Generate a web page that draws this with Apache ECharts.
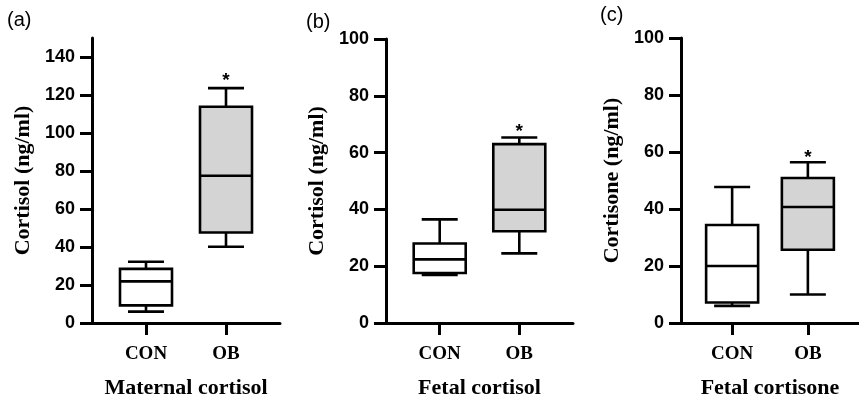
<!DOCTYPE html>
<html>
<head>
<meta charset="utf-8">
<script src="https://cdn.jsdelivr.net/npm/echarts@6/dist/echarts.min.js"></script>
<style>
  html, body { margin: 0; padding: 0; background: #fff; }
  #main { width: 859px; height: 404px; }
</style>
</head>
<body>
<div id="main"></div>
<script>
// groups on the x axis
const categories = ['CON', 'OB'];

// box values: [min, Q1, median, Q3, max]
const maternalCon = [6.0, 9.3, 21.9, 28.5, 32.2];
const maternalOb = [40.1, 47.6, 77.5, 113.8, 123.6];
const fetalCortisolCon = [16.9, 17.6, 22.4, 28.0, 36.5];
const fetalCortisolOb = [24.5, 32.3, 39.9, 63.0, 65.3];
const fetalCortisoneCon = [6.0, 7.2, 20.0, 34.4, 47.7];
const fetalCortisoneOb = [10.0, 25.7, 40.7, 50.9, 56.4];

// where the "*" sits above OB, per panel
const starY = [127.5, 67.5, 58];

// y ticks
const yTicksA = [0, 20, 40, 60, 80, 100, 120, 140];
const yTicksB = [0, 20, 40, 60, 80, 100];

const panelLabels = ['(a)', '(b)', '(c)'];
const yNames = ['Cortisol (ng/ml)', 'Cortisol (ng/ml)', 'Cortisone (ng/ml)'];
const xNames = ['Maternal cortisol', 'Fetal cortisol', 'Fetal cortisone'];

const BOX_W = 52;
const CAP_W = 36;
const LW = 2.6;
const fills = ['#ffffff', '#d4d4d4'];

function boxItem(params, api) {
    const x = api.value(0);
    const pMin = api.coord([x, api.value(1)]);
    const pQ1 = api.coord([x, api.value(2)]);
    const pMed = api.coord([x, api.value(3)]);
    const pQ3 = api.coord([x, api.value(4)]);
    const pMax = api.coord([x, api.value(5)]);
    const cx = pMed[0];
    const hb = BOX_W / 2, hc = CAP_W / 2;
    const ls = { stroke: '#000', lineWidth: LW };
    return {
        type: 'group',
        children: [
            { type: 'line', shape: { x1: cx, y1: pMax[1], x2: cx, y2: pQ3[1] }, style: ls },
            { type: 'line', shape: { x1: cx, y1: pQ1[1], x2: cx, y2: pMin[1] }, style: ls },
            { type: 'line', shape: { x1: cx - hc, y1: pMax[1], x2: cx + hc, y2: pMax[1] }, style: ls },
            { type: 'line', shape: { x1: cx - hc, y1: pMin[1], x2: cx + hc, y2: pMin[1] }, style: ls },
            {
                type: 'rect',
                shape: { x: cx - hb, y: pQ3[1], width: BOX_W, height: pQ1[1] - pQ3[1] },
                style: { fill: fills[params.dataIndex], stroke: '#000', lineWidth: LW }
            },
            { type: 'line', shape: { x1: cx - hb, y1: pMed[1], x2: cx + hb, y2: pMed[1] }, style: ls }
        ]
    };
}

function starItem(params, api) {
    const p = api.coord([api.value(0), api.value(1)]);
    return {
        type: 'text',
        x: p[0], y: p[1],
        style: {
            text: '*', fill: '#000', align: 'center', verticalAlign: 'middle',
            font: 'bold 19px "Liberation Sans", Arial, sans-serif'
        }
    };
}

// grid positions (px)
const grids = [
    { left: 92, top: 38, width: 188, height: 287 },
    { left: 386, top: 39, width: 187, height: 286 },
    { left: 681, top: 38, width: 188, height: 286 }
];

const serifBold = { fontFamily: 'Liberation Serif', fontWeight: 'bold', color: '#000' };
const sansBold = { fontFamily: 'Liberation Sans', fontWeight: 'bold', color: '#000' };

function xAxisCfg(i) {
    return {
        gridIndex: i, type: 'value', min: -0.675, max: 1.675,
        name: xNames[i], nameLocation: 'middle', nameGap: 54,
        nameTextStyle: Object.assign({ fontSize: 22 }, serifBold),
        axisLine: { show: true, onZero: false, lineStyle: { color: '#000', width: 3 } },
        axisTick: { show: true, length: 12, lineStyle: { color: '#000', width: 3 }, customValues: [0, 1] },
        axisLabel: Object.assign({
            fontSize: 19, margin: 22, customValues: [0, 1],
            formatter: v => categories[Math.round(v)]
        }, serifBold),
        splitLine: { show: false }
    };
}

function yAxisCfg(i, max, ticks) {
    return {
        gridIndex: i, type: 'value', min: 0, max: max, interval: 20,
        name: yNames[i], nameLocation: 'middle', nameGap: 58,
        nameTextStyle: Object.assign({ fontSize: 22 }, serifBold),
        axisLine: { show: true, onZero: false, lineStyle: { color: '#000', width: 3 } },
        axisTick: { show: true, length: 12, lineStyle: { color: '#000', width: 3 }, customValues: ticks },
        axisLabel: Object.assign({ fontSize: 18, margin: 17, customValues: ticks }, sansBold),
        splitLine: { show: false }
    };
}

const boxSets = [
    [maternalCon, maternalOb],
    [fetalCortisolCon, fetalCortisolOb],
    [fetalCortisoneCon, fetalCortisoneOb]
];

const series = [];
boxSets.forEach((set, i) => {
    series.push({
        type: 'custom', xAxisIndex: i, yAxisIndex: i, clip: false,
        renderItem: boxItem,
        encode: { x: 0, y: [1, 2, 3, 4, 5] },
        data: set.map((v, k) => [k].concat(v))
    });
    series.push({
        type: 'custom', xAxisIndex: i, yAxisIndex: i, clip: false,
        renderItem: starItem,
        encode: { x: 0, y: 1 },
        data: [[1, starY[i]]]
    });
});

const option = {
    animation: false,
    backgroundColor: '#fff',
    title: [
        { text: panelLabels[0], left: 7, top: 10 },
        { text: panelLabels[1], left: 306, top: 12 },
        { text: panelLabels[2], left: 600, top: 5 }
    ].map(t => Object.assign(t, {
        textStyle: { fontFamily: 'Liberation Sans', fontWeight: 'normal', fontSize: 20, color: '#000' },
        padding: 0
    })),
    grid: grids,
    xAxis: [xAxisCfg(0), xAxisCfg(1), xAxisCfg(2)],
    yAxis: [yAxisCfg(0, 150, yTicksA), yAxisCfg(1, 100, yTicksB), yAxisCfg(2, 100, yTicksB)],
    series: series
};

const chart = echarts.init(document.getElementById('main'));
chart.setOption(option);
</script>
</body>
</html>
